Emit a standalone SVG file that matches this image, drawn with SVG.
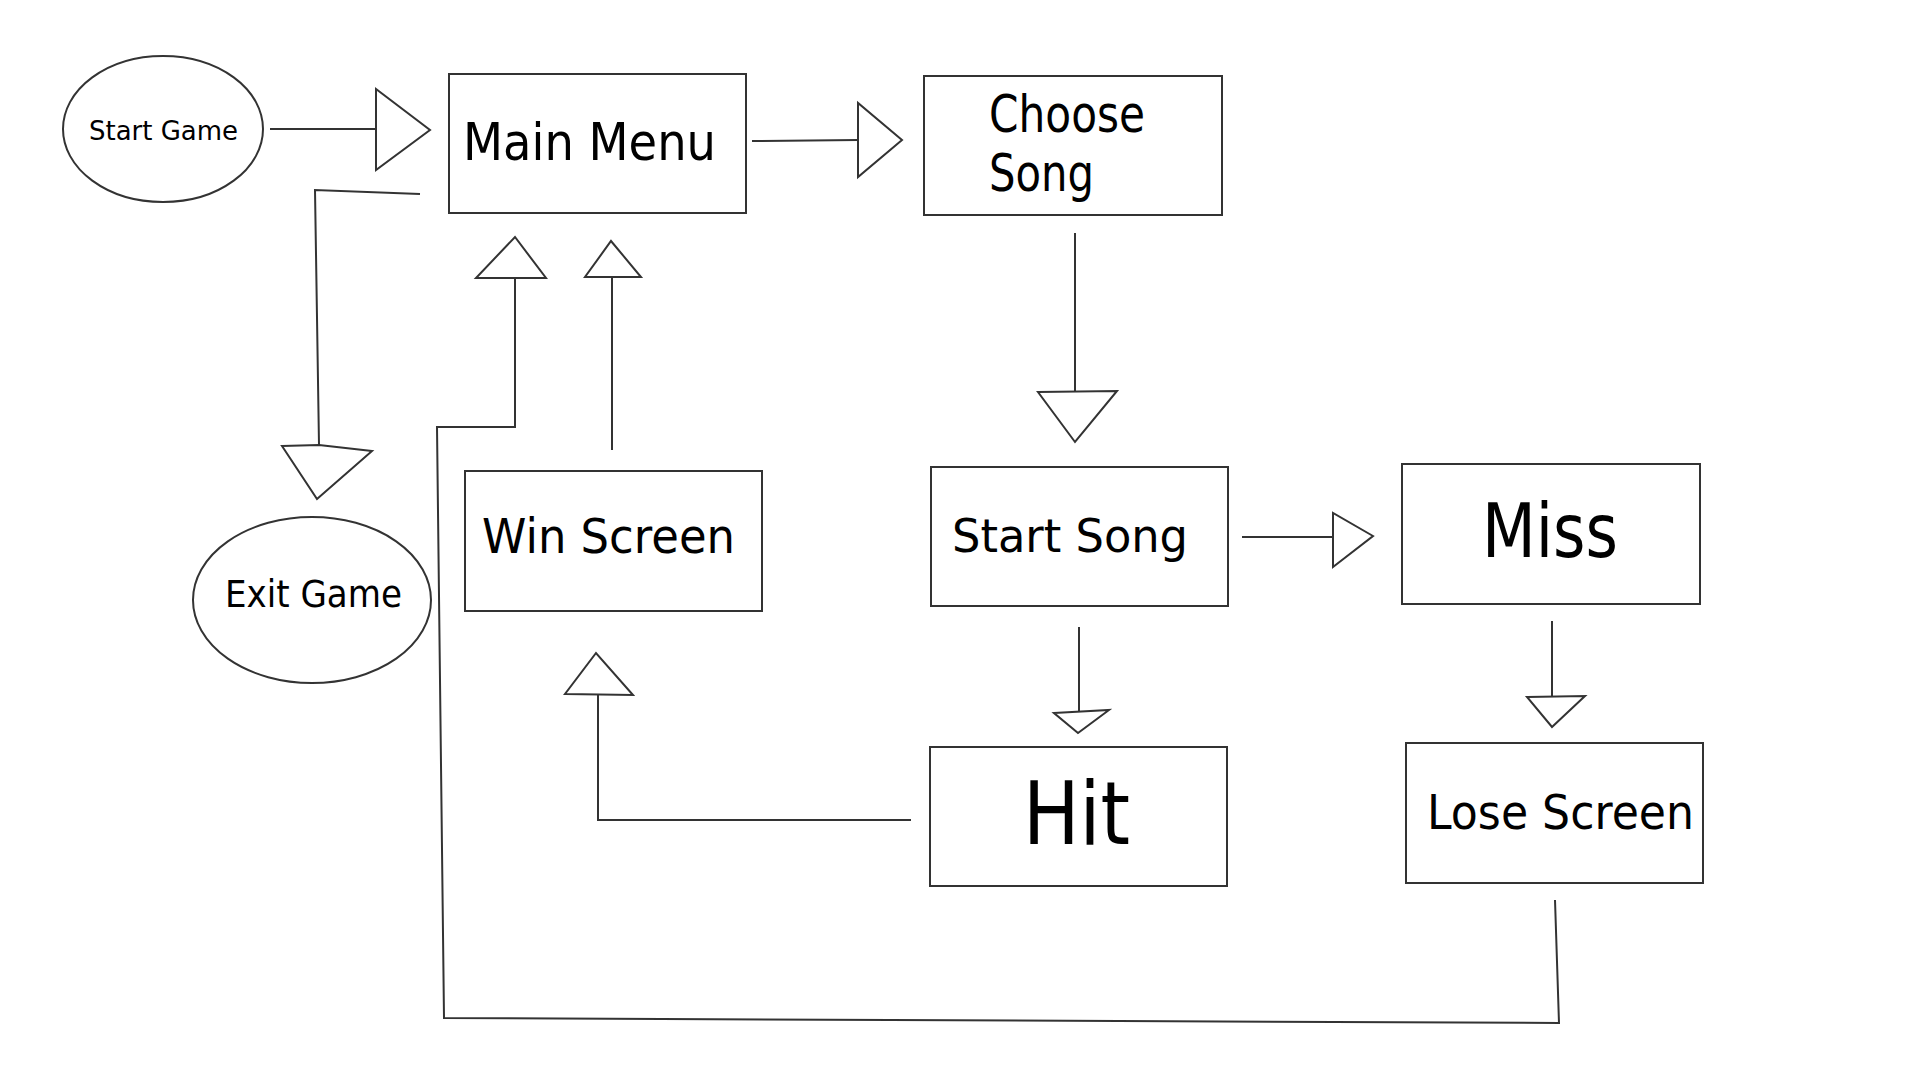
<svg xmlns="http://www.w3.org/2000/svg" width="1920" height="1080" viewBox="0 0 1920 1080">
<style>
.box{fill:#fff;stroke:#333;stroke-width:2}
.ln{fill:none;stroke:#333;stroke-width:2;stroke-linejoin:miter}
.hd{fill:#fff;stroke:#333;stroke-width:2;stroke-linejoin:miter}
.t{font-family:"DejaVu Sans","Verdana",sans-serif;fill:#000}
</style>
<rect width="1920" height="1080" fill="#fff"/>
<g id="connectors">
  <!-- Start Game -> Main Menu -->
  <line class="ln" x1="270" y1="129" x2="376" y2="129"/>
  <polygon class="hd" points="376,89 376,170 430,130"/>
  <!-- Main Menu -> Choose Song -->
  <line class="ln" x1="752" y1="141" x2="858" y2="140"/>
  <polygon class="hd" points="858,103 858,177 902,140"/>
  <!-- Main Menu -> Exit Game -->
  <polyline class="ln" points="420,194 315,190 319,445"/>
  <polygon class="hd" points="282,446 319,445 372,451 317,499"/>
  <!-- Choose Song -> Start Song -->
  <line class="ln" x1="1075" y1="233" x2="1075" y2="392"/>
  <polygon class="hd" points="1038,392 1117,391 1075,442"/>
  <!-- Start Song -> Miss -->
  <line class="ln" x1="1242" y1="537" x2="1333" y2="537"/>
  <polygon class="hd" points="1333,513 1333,567 1373,536"/>
  <!-- Start Song -> Hit -->
  <line class="ln" x1="1079" y1="627" x2="1079" y2="712"/>
  <polygon class="hd" points="1054,713 1109,710 1078,733"/>
  <!-- Miss -> Lose Screen -->
  <line class="ln" x1="1552" y1="621" x2="1552" y2="697"/>
  <polygon class="hd" points="1527,697 1585,696 1552,727"/>
  <!-- Hit -> Win Screen -->
  <polyline class="ln" points="911,820 598,820 598,695"/>
  <polygon class="hd" points="565,694 633,695 596,653"/>
  <!-- Win Screen -> Main Menu -->
  <line class="ln" x1="612" y1="450" x2="612" y2="277"/>
  <polygon class="hd" points="585,277 641,277 611,241"/>
  <!-- Lose Screen -> Main Menu -->
  <polyline class="ln" points="1555,900 1559,1023 444,1018 437,427 515,427 515,278"/>
  <polygon class="hd" points="476,278 546,278 515,237"/>
</g>
<g id="start-game">
  <ellipse class="box" cx="163" cy="129" rx="100" ry="73"/>
  <text class="t" x="89" y="140" font-size="26" textLength="149" lengthAdjust="spacingAndGlyphs">Start Game</text>
</g>
<g id="main-menu">
  <rect class="box" x="449" y="74" width="297" height="139"/>
  <text class="t" x="463" y="160" font-size="52" textLength="253" lengthAdjust="spacingAndGlyphs">Main Menu</text>
</g>
<g id="choose-song">
  <rect class="box" x="924" y="76" width="298" height="139"/>
  <text class="t" x="989" y="132" font-size="52" textLength="156" lengthAdjust="spacingAndGlyphs">Choose</text>
  <text class="t" x="989" y="191" font-size="52" textLength="105" lengthAdjust="spacingAndGlyphs">Song</text>
</g>
<g id="exit-game">
  <ellipse class="box" cx="312" cy="600" rx="119" ry="83"/>
  <text class="t" x="225" y="607" font-size="37" textLength="177" lengthAdjust="spacingAndGlyphs">Exit Game</text>
</g>
<g id="win-screen">
  <rect class="box" x="465" y="471" width="297" height="140"/>
  <text class="t" x="482" y="553" font-size="48" textLength="253" lengthAdjust="spacingAndGlyphs">Win Screen</text>
</g>
<g id="start-song">
  <rect class="box" x="931" y="467" width="297" height="139"/>
  <text class="t" x="952" y="552" font-size="47" textLength="236" lengthAdjust="spacingAndGlyphs">Start Song</text>
</g>
<g id="miss">
  <rect class="box" x="1402" y="464" width="298" height="140"/>
  <text class="t" x="1482" y="557" font-size="74" textLength="136" lengthAdjust="spacingAndGlyphs">Miss</text>
</g>
<g id="hit">
  <rect class="box" x="930" y="747" width="297" height="139"/>
  <text class="t" x="1023" y="844" font-size="87" textLength="107" lengthAdjust="spacingAndGlyphs">Hit</text>
</g>
<g id="lose-screen">
  <rect class="box" x="1406" y="743" width="297" height="140"/>
  <text class="t" x="1427" y="829" font-size="48" textLength="267" lengthAdjust="spacingAndGlyphs">Lose Screen</text>
</g>
</svg>
